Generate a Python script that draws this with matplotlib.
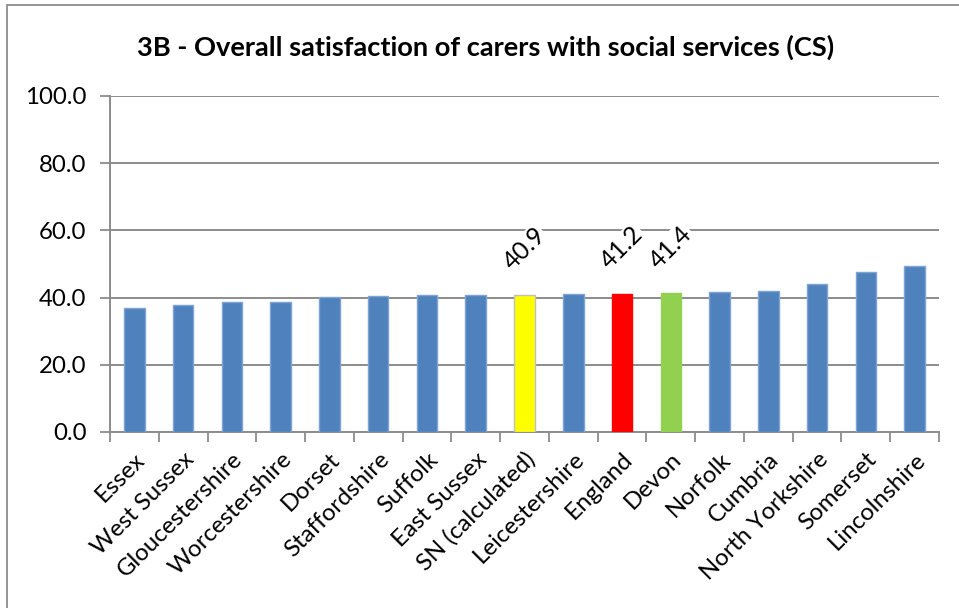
import matplotlib
matplotlib.use("Agg")
import matplotlib.pyplot as plt
from matplotlib.patches import Rectangle
import numpy as np

categories = ["Essex", "West Sussex", "Gloucestershire", "Worcestershire", "Dorset",
              "Staffordshire", "Suffolk", "East Sussex", "SN (calculated)", "Leicestershire",
              "England", "Devon", "Norfolk", "Cumbria", "North Yorkshire", "Somerset",
              "Lincolnshire"]
values = [36.9, 37.7, 38.6, 38.6, 40.3, 40.5, 40.7, 40.7, 40.9, 41.1,
          41.2, 41.4, 41.7, 42.0, 44.1, 47.5, 49.3]
labelled = ["SN (calculated)", "England", "Devon"]
yticks = [0, 20, 40, 60, 80, 100]
title = "3B - Overall satisfaction of carers with social services (CS)"

BLUE = "#4F81BD"
special_colors = {"SN (calculated)": "#FFFF00", "England": "#FF0000", "Devon": "#92D050"}
colors = [special_colors.get(c, BLUE) for c in categories]
edges = ["#BFBFBF" if c == "SN (calculated)" else (special_colors.get(c) or "#7FA3D3") for c in categories]

plt.rcParams['font.family'] = ['Lato', 'DejaVu Sans']
FS = 17.3

fig = plt.figure(figsize=(9.59, 6.08), dpi=100)
ax = fig.add_axes([110/959, 1-432/608, (939-110)/959, (432-96)/608])

# outer frame
fig.patches.append(Rectangle((7/959, -0.05), 1.1, 1-5/608+0.05, transform=fig.transFigure,
                             fill=False, edgecolor="#8C8C8C", linewidth=1.3))

x = np.arange(len(categories))
ax.bar(x, values, width=0.42, color=colors, edgecolor=edges, linewidth=1.0, zorder=3)

ax.set_xlim(-0.5, len(categories) - 0.5)
ax.set_ylim(0, 100)
ax.set_yticks(yticks)
ax.set_yticklabels([f"{v:.1f}" for v in yticks], fontsize=FS)
ax.yaxis.grid(True, color="#8C8C8C", linewidth=1.4, zorder=0)
ax.set_axisbelow(True)

ax.set_xticks(x)
ax.set_xticklabels(categories, rotation=45, ha="right", va="top",
                   rotation_mode="anchor", fontsize=FS)
ax.set_xticks(np.arange(-0.5, len(categories), 1.0), minor=True)
ax.tick_params(axis="x", which="major", length=0, pad=12)
ax.tick_params(axis="x", which="minor", length=7, width=1.3, color="#8C8C8C", direction="out")
ax.tick_params(axis="y", length=7, width=1.3, color="#8C8C8C", direction="out", pad=10)

for s in ["top", "right"]:
    ax.spines[s].set_visible(False)
for s in ["left", "bottom"]:
    ax.spines[s].set_color("#8C8C8C")
    ax.spines[s].set_linewidth(1.4)

for i, (c, v) in enumerate(zip(categories, values)):
    if c in labelled:
        ax.annotate(f"{v:.1f}", xy=(i, v), xytext=(0, 33), textcoords="offset points",
                    ha="center", va="center", rotation=45, rotation_mode="anchor",
                    fontsize=FS + 0.5, zorder=5,
                    bbox=dict(boxstyle="square,pad=0.05", fc="white", ec="none"))

fig.text(486/959, 1-47/608, title, ha="center", va="center", fontsize=19.6, fontweight="bold")

fig.savefig("out.png", dpi=100)
